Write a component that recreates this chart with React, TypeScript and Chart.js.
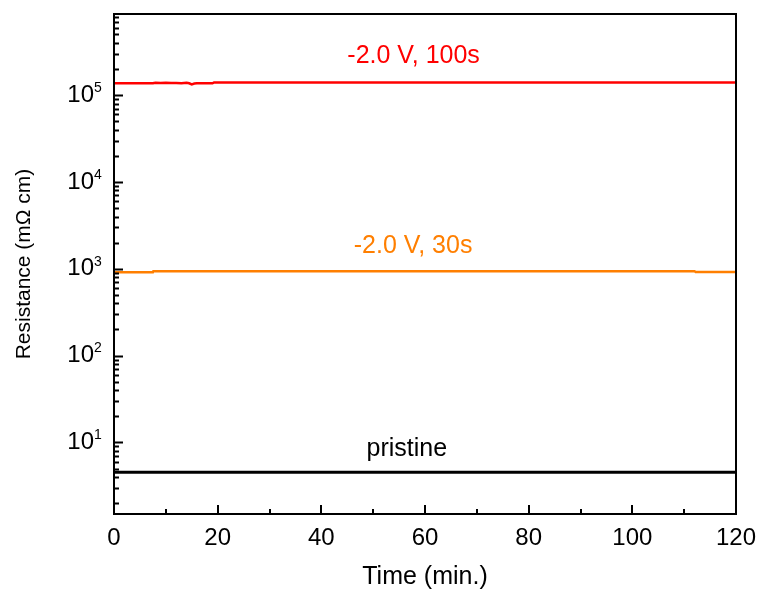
import React, { useEffect, useRef } from "react";
import { Chart, registerables } from "chart.js";

Chart.register(...registerables);

// ---- data ----
const redTime = [0, 7.5, 8, 9, 10, 11, 12, 13, 14, 14.5, 15, 15.5, 16, 17, 18, 19, 19.3, 120];
const redValue = [137000, 137000, 139000, 138000, 139000, 138000, 138000, 137000, 139000, 137000, 133000, 136000, 137000, 137000, 137000, 137000, 140000, 140000];

const orangeTime = [0, 7.5, 7.6, 112, 112.2, 120];
const orangeValue = [910, 910, 940, 940, 920, 920];

const blackTime = [0, 120];
const blackValue = [4.55, 4.55];

const labelTexts = ["-2.0 V, 100s", "-2.0 V, 30s", "pristine"];
const labelColors = ["#ff0000", "#ff7f00", "#000000"];
const labelX = [57.8, 57.7, 56.5];
const labelY = [285000, 1820, 8.4];

const xTicks = [0, 20, 40, 60, 80, 100, 120];
const yMajorTicks = [10, 100, 1000, 10000, 100000];

const xTitle = "Time (min.)";
const yTitle = "Resistance (mΩ cm)";

const FONT = "'Liberation Sans', Arial, sans-serif";

const framePlugin = {
  id: "frame",
  afterDraw(chart: any) {
    const { ctx, chartArea: a, scales } = chart;
    const xs = scales.x;
    const ys = scales.y;
    ctx.save();
    ctx.strokeStyle = "#000";
    ctx.lineWidth = 2;
    ctx.strokeRect(a.left, a.top, a.right - a.left, a.bottom - a.top);
    ctx.beginPath();
    // x ticks (inward)
    for (let v = xs.min; v <= xs.max; v += 10) {
      const px = Math.round(xs.getPixelForValue(v));
      const len = v % 20 === 0 ? 9 : 5;
      ctx.moveTo(px, a.bottom);
      ctx.lineTo(px, a.bottom - len);
    }
    // y ticks (inward) log
    for (let e = 0; e <= 6; e++) {
      for (let m = 1; m <= 9; m++) {
        const v = m * Math.pow(10, e);
        if (v < ys.min || v > ys.max) continue;
        const py = Math.round(ys.getPixelForValue(v)) + 0.5;
        const len = m === 1 ? 9 : 5;
        ctx.moveTo(a.left, py);
        ctx.lineTo(a.left + len, py);
      }
    }
    ctx.stroke();
    // exponents of y tick labels
    ctx.fillStyle = "#000";
    ctx.font = `14px ${FONT}`;
    ctx.textAlign = "left";
    ctx.textBaseline = "top";
    for (const v of yMajorTicks) {
      const py = ys.getPixelForValue(v);
      ctx.fillText(String(Math.round(Math.log10(v))), a.left - 20, py - 14);
    }
    // series labels
    ctx.font = `25px ${FONT}`;
    ctx.textAlign = "center";
    ctx.textBaseline = "middle";
    for (let i = 0; i < labelTexts.length; i++) {
      ctx.fillStyle = labelColors[i];
      ctx.fillText(labelTexts[i], xs.getPixelForValue(labelX[i]), ys.getPixelForValue(labelY[i]));
    }
    ctx.restore();
  },
};

export default function App() {
  const ref = useRef<HTMLCanvasElement | null>(null);
  useEffect(() => {
    document.body.style.margin = "0";
    const mk = (t: number[], v: number[]) => t.map((x, i) => ({ x, y: v[i] }));
    const chart = new Chart(ref.current as HTMLCanvasElement, {
      type: "line",
      data: {
        datasets: [
          { data: mk(blackTime, blackValue), borderColor: "#000000", borderWidth: 3, pointRadius: 0 },
          { data: mk(orangeTime, orangeValue), borderColor: "#ff7f00", borderWidth: 2.5, pointRadius: 0 },
          { data: mk(redTime, redValue), borderColor: "#ff0000", borderWidth: 2.5, pointRadius: 0 },
        ],
      },
      options: {
        animation: false,
        responsive: false,
        maintainAspectRatio: false,
        layout: { padding: { left: 0, top: 14, right: 24, bottom: 0 } },
        plugins: { legend: { display: false }, tooltip: { enabled: false } },
        scales: {
          x: {
            type: "linear",
            min: 0,
            max: 120,
            afterBuildTicks: (s: any) => {
              s.ticks = xTicks.map((v) => ({ value: v }));
            },
            afterFit: (s: any) => {
              s.height = 82;
              s.paddingLeft = 0;
              s.paddingRight = 0;
              s.paddingTop = 0;
              s.paddingBottom = 0;
            },
            grid: { display: false, drawTicks: false },
            border: { display: false },
            ticks: { color: "#000", font: { family: FONT, size: 24 }, padding: 10, maxRotation: 0 },
            title: { display: true, text: xTitle, color: "#000", font: { family: FONT, size: 25 }, padding: { bottom: 4 } },
          },
          y: {
            type: "logarithmic",
            min: 1.5,
            max: 860000,
            afterBuildTicks: (s: any) => {
              s.ticks = yMajorTicks.map((v) => ({ value: v }));
            },
            afterFit: (s: any) => {
              s.width = 114;
              s.paddingLeft = 0;
              s.paddingRight = 0;
              s.paddingTop = 0;
              s.paddingBottom = 0;
            },
            grid: { display: false, drawTicks: false },
            border: { display: false },
            ticks: {
              color: "#000",
              font: { family: FONT, size: 24 },
              padding: 20,
              callback: () => "10",
            },
            title: { display: true, text: yTitle, color: "#000", font: { family: FONT, size: 21 }, padding: { top: 12 } },
          },
        },
      },
      plugins: [framePlugin],
    } as any);
    return () => chart.destroy();
  }, []);
  return <canvas ref={ref} width={760} height={596} style={{ display: "block" }} />;
}
